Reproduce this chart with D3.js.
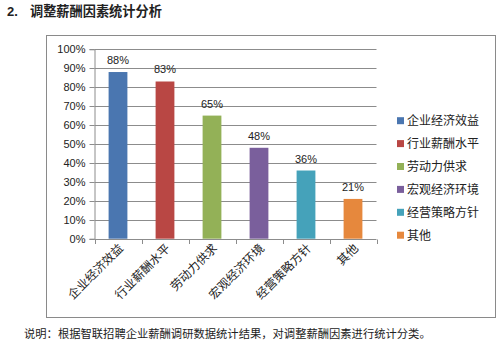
<!DOCTYPE html>
<html><head><meta charset="utf-8">
<script src="https://cdn.jsdelivr.net/npm/d3@7"></script>
<style>body{margin:0;background:#fff}svg{display:block}</style>
</head><body>
<script>
const categories = ["企业经济效益","行业薪酬水平","劳动力供求","宏观经济环境","经营策略方针","其他"];
const values = [88, 83, 65, 48, 36, 21];
const colors = ["#4a76b0","#b94744","#93b157","#7a5f9c","#45a2ba","#e6883d"];
const yTicks = [0,10,20,30,40,50,60,70,80,90,100];
const titleNum = "2.";
const title = "调整薪酬因素统计分析";
const note = "说明：根据智联招聘企业薪酬调研数据统计结果，对调整薪酬因素进行统计分类。";

const W = 504, H = 352;
const svg = d3.select("body").append("svg").attr("width", W).attr("height", H);
const cjk = "'Noto Sans CJK SC', sans-serif";
const lat = "'Liberation Sans', Arial, sans-serif";

svg.append("text").attr("x", 7).attr("y", 16).attr("font-family", lat)
  .attr("font-weight", "bold").attr("font-size", 13).attr("fill", "#222").text(titleNum);
svg.append("text").attr("x", 30).attr("y", 16).attr("font-family", cjk)
  .attr("font-weight", "bold").attr("font-size", 13.2).attr("fill", "#222").text(title);

svg.append("rect").attr("x", 46.5).attr("y", 35.5).attr("width", 449).attr("height", 282)
  .attr("fill", "#fff").attr("stroke", "#8a8a8a").attr("stroke-width", 1);

const x = d3.scaleBand().domain(categories).range([94.5, 376.5]).paddingInner(0.6).paddingOuter(0.3);
const y = d3.scaleLinear().domain([0, 100]).range([238.7, 49.3]);

// gridlines
svg.append("g").selectAll("line").data(yTicks.filter(d => d > 0)).join("line")
  .attr("x1", 94.5).attr("x2", 376.5)
  .attr("y1", d => Math.round(y(d)) + 0.5).attr("y2", d => Math.round(y(d)) + 0.5)
  .attr("stroke", "#8c8c8c").attr("stroke-width", 1);

// y axis
const yAxis = svg.append("g").attr("transform", "translate(94.5,0)")
  .call(d3.axisLeft(y).tickValues(yTicks).tickFormat(d => d + "%").tickSize(5).tickPadding(4));
yAxis.selectAll("text").attr("font-family", lat).attr("font-size", 11).attr("fill", "#222");
yAxis.selectAll("line,path").attr("stroke", "#8c8c8c");
yAxis.selectAll(".tick").attr("transform", d => `translate(0,${Math.round(y(d)) + 0.5})`);

// bars
svg.append("g").selectAll("rect").data(values).join("rect")
  .attr("x", (d, i) => x(categories[i])).attr("width", x.bandwidth())
  .attr("y", d => y(d)).attr("height", d => y(0) - y(d))
  .attr("fill", (d, i) => colors[i]);

// data labels
svg.append("g").selectAll("text").data(values).join("text")
  .attr("x", (d, i) => x(categories[i]) + x.bandwidth() / 2)
  .attr("y", d => y(d) - 8).attr("text-anchor", "middle")
  .attr("font-family", lat).attr("font-size", 11).attr("fill", "#222")
  .text(d => d + "%");

// x axis line and ticks
const x0 = 94.5;
svg.append("line").attr("x1", x0).attr("x2", 376.5).attr("y1", 239.5).attr("y2", 239.5).attr("stroke", "#8c8c8c");
svg.append("g").selectAll("line").data(d3.range(categories.length + 1)).join("line")
  .attr("x1", i => Math.round(x0 + (x.range()[1]-x0) / categories.length * i) + 0.5)
  .attr("x2", i => Math.round(x0 + (x.range()[1]-x0) / categories.length * i) + 0.5)
  .attr("y1", 239.5).attr("y2", 244).attr("stroke", "#8c8c8c");

// x labels
svg.append("g").selectAll("text").data(categories).join("text")
  .attr("transform", d => `translate(${x(d) + x.bandwidth() / 2 + 6},${249}) rotate(-45)`)
  .attr("text-anchor", "end").attr("font-family", cjk).attr("font-size", 12).attr("fill", "#222")
  .text(d => d);

// legend
const lg = svg.append("g").selectAll("g").data(categories).join("g")
  .attr("transform", (d, i) => `translate(397,${120.7 + i * 22.9})`);
lg.append("rect").attr("x", 0).attr("y", -3.5).attr("width", 7).attr("height", 7).attr("fill", (d, i) => colors[i]);
lg.append("text").attr("x", 10).attr("y", 4.5).attr("font-family", cjk).attr("font-size", 12).attr("fill", "#222").text(d => d);

// note
svg.append("text").attr("x", 24).attr("y", 338).attr("font-family", cjk).attr("font-size", 11.3)
  .attr("fill", "#222").text(note);
</script>
</body></html>
